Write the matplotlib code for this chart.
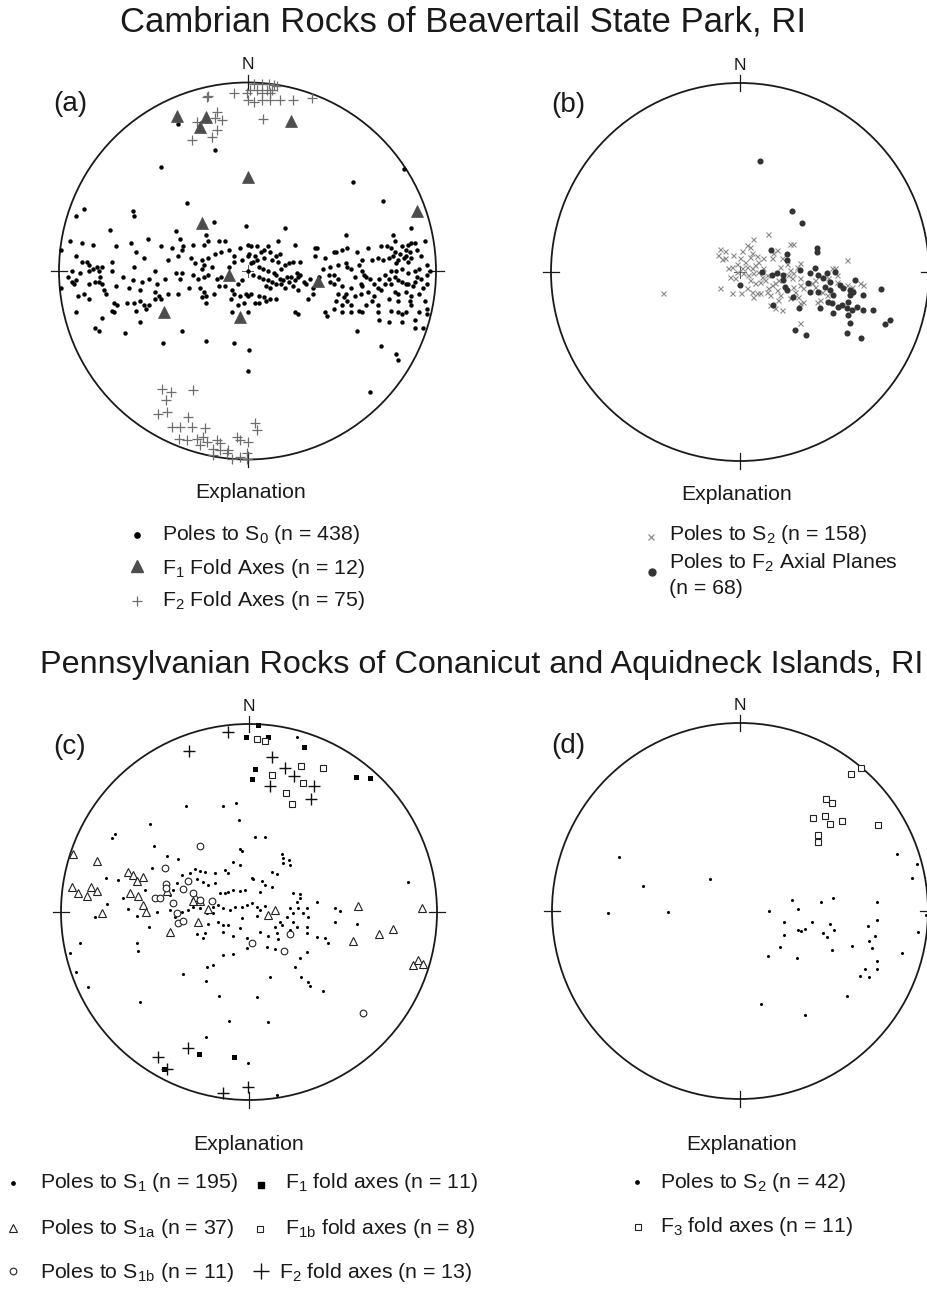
import numpy as np
import matplotlib
matplotlib.use("Agg")
from matplotlib import pyplot as plt
import matplotlib.patches as mpatches

plt.rcParams['font.family'] = ['Liberation Sans', 'DejaVu Sans']
plt.rcParams['mathtext.fontset'] = 'custom'
plt.rcParams['mathtext.rm'] = 'Liberation Sans'
plt.rcParams['mathtext.it'] = 'Liberation Sans:italic'

# all net coordinates: x east, y north, in percent of the primitive circle radius

# (a) Cambrian rocks
A_S0 = [(-37, 78), (-17, 64), (-46, 55), (83, 54), (56, 47), (-45, -38), (-22, -37), (-7, -38), (1, -42),
        (0, -53), (71, -40), (79, -44), (80, -47), (65, -64),
        (-32, 36), (-87, 33), (-61, 32), (-60, 29), (-91, 29), (-18, 26), (-1, 24), (-73, 22), (-38, 21),
        (-36, 17), (-94, 16), (-88, 15), (-82, 14), (-70, 13), (-62, 15), (-53, 17), (-46, 13), (-40, 12),
        (-34, 13), (-29, 14), (-23, 14), (-21, 16), (-15, 16), (-12, 16), (-22, 19), (-99, 11), (-91, 8),
        (-85, 5), (-72, 5), (-59, 10), (-55, 7), (-42, 6), (-37, 8), (-35, 11), (-30, 7), (-28, 4), (-24, 6),
        (-21, 7), (-17, 9), (-14, 10), (-10, 11), (-7, 8), (-4, 12), (0, 14), (-23, 3), (-19, 2), (-24, 1),
        (-21, -2), (-23, -3), (-16, -4), (-14, -3), (-10, 2), (-7, 5), (-3, 6), (-84, 3), (-82, 1), (-80, 2),
        (-79, 0), (-84, 0), (-77, 2), (-93, 0), (-89, -1), (-78, -3), (-49, 0), (-60, 2), (-38, -1), (-35, -1),
        (-36, -4), (-61, -5), (-56, -6), (-48, -7), (-93, -6), (-92, -7), (-91, -5), (-84, -7), (-81, -6),
        (-79, -6), (-77, -7), (-76, -10), (-75, -12), (-99, -9), (-63, -9), (-57, -10), (-49, -11), (-47, -13),
        (-42, -12), (-37, -12), (-31, -9), (-25, -9), (-23, -11), (-22, -13), (-18, -12), (-15, -8), (-12, -8),
        (-7, -12), (-4, -13), (-1, -12), (-84, -15), (-71, -17), (-69, -18), (-64, -17), (-60, -17), (-57, -16),
        (-55, -18), (-52, -18), (-49, -15), (-46, -15), (-24, -14), (-22, -17), (-9, -15), (-72, -21),
        (-71, -22), (-59, -21), (-54, -20), (-77, -25), (-81, -30), (-79, -32), (-65, -33), (-57, -27),
        (-35, -32), (-91, -22), (-8, -22),
        (72, 37), (20, 23), (52, 19), (87, 23), (77, 19), (78, 16), (2, 13), (5, 13), (11, 13), (16, 16),
        (25, 14), (36, 12), (37, 12), (87, 15), (94, 16), (0, 8), (1, 9), (4, 8), (7, 10), (9, 11), (12, 10),
        (15, 8), (17, 9), (9, 7), (13, 6), (16, 5), (20, 3), (22, 4), (24, 5), (28, 5), (2, 4), (6, 2), (8, 1),
        (11, 0), (14, -1), (15, -2), (18, 1), (21, -3), (23, -3), (27, -3), (0, 0), (3, -2), (6, -3), (8, -4),
        (11, -5), (13, -6), (15, -7), (18, -7), (22, -6), (25, -5), (30, -6), (31, -7), (27, -10), (0, -13),
        (2, -12), (6, -13), (9, -14), (12, -15), (15, -15), (4, -17), (6, -17), (10, -16), (25, -22), (27, -23),
        (32, -15), (35, -12), (0, -22), (41, 7), (36, 8), (46, 10), (47, 10), (50, 11), (53, 12), (58, 10),
        (64, 12), (44, 2), (43, -2), (46, -2), (48, 3), (52, 4), (53, 2), (55, 1), (59, 3), (61, 0), (62, -2),
        (65, -4), (66, 6), (69, 7), (61, 6), (46, -7), (50, -8), (52, -12), (48, -12), (55, -9), (57, -13),
        (60, -7), (61, -8), (64, -11), (67, -7), (69, -9), (71, -10), (47, -16), (50, -18), (53, -16), (55, -18),
        (59, -21), (61, -22), (63, -18), (66, -16), (69, -18), (46, -20), (41, -22), (42, -24), (50, -22),
        (55, -22), (69, -22), (70, -26), (58, -32), (71, 13), (74, 13), (76, 12), (78, 10), (82, 13), (84, 11),
        (85, 14), (89, 15), (72, 6), (75, 7), (77, 8), (80, 6), (83, 7), (84, 8), (85, 5), (87, 7), (92, 8),
        (95, 3), (76, 0), (79, 0), (82, 1), (85, -1), (89, 0), (91, 1), (80, -5), (82, -6), (84, -7), (85, -7),
        (89, -6), (92, -4), (95, -2), (97, 0), (73, -7), (75, -4), (76, -7), (78, -11), (80, -12), (84, -11),
        (87, -13), (91, -12), (93, -9), (95, -7), (75, -15), (76, -21), (80, -22), (82, -23), (84, -22),
        (87, -18), (89, -26), (91, -22), (94, -16), (95, -20), (95, -23), (93, -30), (89, -30), (82, -27),
        (75, -27),
        (10, -8), (12, -9), (17, -4), (19, -5), (20, -9), (24, -8), (26, -1), (28, -2), (33, -4), (35, -9),
        (3, 5), (5, 6), (-3, -5), (-5, -7), (-8, -10), (-2, -17), (-5, -18), (38, -3), (40, 1), (44, -6),
        (48, -4), (51, -14), (57, -3), (60, -12), (63, -3), (67, -13), (70, -4), (73, -2), (78, -3), (80, -16),
        (86, -16), (88, -8), (90, -3), (79, 4), (81, 9), (86, 10), (90, 11), (-44, -4), (-52, -4), (-66, -3),
        (-70, -8), (-72, 0), (-87, -12), (-90, -13), (-88, 5), (-95, -3), (-26, -4), (-29, -2)]
A_F1 = [(-37.2, 82.3), (-22.1, 81.6), (-25.1, 76.3), (23.0, 79.7), (0.0, 50.1), (-23.9, 25.7), (-9.7, -2.1),
        (37.3, -5.1), (89.9, 32.0), (-44.1, -21.6), (-3.9, -24.6)]
A_F2 = [(3.2, 99.4), (7.6, 99.4), (11.2, 99.0), (13.8, 98.6), (15.6, 98.4), (1.1, 96.1), (5.0, 96.1),
        (10.3, 96.1), (12.9, 96.1), (-7.4, 94.3), (-0.4, 94.3), (7.6, 94.3), (12.0, 94.3), (-20.7, 92.6),
        (-21.6, 92.2), (0.5, 90.8), (3.2, 89.9), (7.6, 90.8), (12.0, 90.8), (17.3, 90.8), (24.4, 90.8),
        (34.2, 91.7), (-16.3, 84.6), (-13.6, 80.2), (-17.2, 81.1), (8.1, 80.7), (-26.9, 79.3), (-16.3, 74.9),
        (-18.9, 71.3), (-29.6, 69.6),
        (-45.5, -62.8), (-40.7, -64.1), (-29.0, -63.2), (-43.2, -68.5), (-47.3, -75.6), (-42.8, -74.7),
        (-31.3, -77.3), (-40.2, -82.7), (-35.8, -82.7), (-29.6, -82.7), (-22.5, -83.5), (4.1, -80.9),
        (5.0, -84.4), (-36.6, -88.9), (-32.2, -89.7), (-26.9, -88.9), (-23.4, -88.0), (-21.6, -90.6),
        (-25.1, -92.4), (-16.3, -89.7), (-14.5, -91.5), (-5.7, -88.0), (-3.9, -89.7), (0.5, -90.6),
        (-18.1, -94.2), (-14.5, -95.0), (-10.1, -95.0), (-11.0, -96.8), (-18.1, -97.7), (-8.3, -99.5),
        (-0.4, -96.8), (-0.4, -99.8), (-3.9, -98.6)]

# (b) Cambrian rocks, S2 and F2 axial planes
B_S2 = [(-40.6, -11.3), (15.0, 20.1), (7.1, 17.5), (26.5, 14.8), (28.2, 14.8), (-10.6, 12.2), (-7.9, 11.1),
        (-11.5, 9.0), (-9.7, 6.9), (0.9, 11.1), (5.3, 13.4), (6.2, 9.9), (-3.5, 9.0), (0, 7.2), (2.6, 5.5),
        (5.3, 8.1), (8.8, 8.6), (9.7, 5.5), (12.3, 7.2), (-4.4, 2.8), (-1.8, 4.1), (0.9, 1.9), (3.5, 2.8),
        (6.2, 1.9), (7.9, 3.7), (-1.8, 0.2), (1.8, -0.7), (4.4, -1.6), (7.1, -0.7), (9.7, 0.2), (11.5, -2.5),
        (-5.3, -2.5), (-2.6, -3.4), (5.3, -4.2), (7.9, -6.0), (10.6, -5.1), (13.2, -4.2), (-10.6, -8.6),
        (-4.4, -11.3), (0.4, -11.3), (3.5, -8.6), (6.2, -10.4), (7.1, -13.1), (8.8, -11.3), (10.6, -11.3),
        (14.1, -10.4), (15.9, -12.2), (16.8, -6.9), (18.5, -6.0), (20.3, -4.2), (19.4, -9.5), (15.0, -8.6),
        (16.8, 7.2), (17.6, 9.9), (19.4, 11.6), (22.1, 7.2), (21.2, 2.8), (24.7, 4.1), (26.5, 1.1),
        (28.2, -0.7), (30.0, 2.8), (31.8, 4.6), (25.6, -1.6), (27.3, -3.4), (28.2, -7.8), (31.8, -6.9),
        (29.1, -10.4), (33.5, -8.6), (21.2, -12.2), (15.9, -17.5), (18.5, -19.2), (22.1, -20.1), (20.3, -14.8),
        (26.5, -13.9), (30.9, -13.1), (31.8, -16.6), (33.5, -15.7), (37.9, -6.0), (39.7, -7.8), (40.6, -15.7),
        (42.3, -14.8), (43.2, -10.4), (45.9, -12.2), (48.5, 1.9), (50.3, 1.9), (51.2, -1.6), (51.2, -5.1),
        (56.4, 6.4), (56.4, -6.9), (59.1, -7.8), (63.5, -6.0), (65.3, -6.9), (46.7, -3.4), (39.7, -4.2),
        (31.8, -27.2), (31.8, -3.4), (14.1, -1.6), (12.3, 1.9), (-6.2, 1.9), (-7.9, 7.2), (3.5, 14.3)]
B_F2AP = [(10.6, 58.9), (27.7, 32.5), (33.0, 25.7), (40.6, 12.9), (40.6, 10.8), (16.2, 11.6), (25.0, 9.3),
          (25.0, 6.4), (0, -6.9), (11.5, 0.2), (16.8, -1.6), (19.4, -0.7), (22.9, -1.6), (22.9, -4.2),
          (23.8, -7.8), (24.7, -9.5), (28.2, -13.1), (31.8, 1.1), (37.0, -0.7), (39.7, 1.9), (41.5, -1.6),
          (44.1, -3.4), (45.9, -0.7), (45.0, -7.8), (47.6, -5.1), (47.6, -9.5), (49.4, -12.2), (46.7, -15.7),
          (48.5, -16.6), (52.0, -18.3), (53.8, -17.5), (56.4, -19.2), (57.3, -15.7), (58.2, -12.2),
          (58.2, -9.5), (57.3, -22.8), (59.1, -20.1), (60.0, -10.4), (60.9, -4.2), (52.9, -6.9), (54.7, -8.6),
          (37.0, -10.4), (41.5, -10.4), (42.3, -19.2), (36.2, -6.0), (49.4, -21.9), (58.2, -27.2),
          (65.3, -12.2), (65.3, -20.1), (70.2, -20.1), (74.6, -9.0), (76.7, -27.7), (79.4, -25.4),
          (29.1, -30.7), (34.9, -33.3), (56.8, -32.5), (64.0, -35.1), (17.6, -17.5), (31.4, -19.2),
          (50.3, 0.2), (61.7, -18.3)]

# (c) Pennsylvanian rocks
C_S1 = [(25.4, 93.3), (-33.7, 56.6), (-14.0, 56.6), (-6.9, 57.8), (-5.3, 48.9), (-52.7, 46.8), (31.6, -37.1),
        (32.4, -39.4), (39.2, -42.0), (-23.0, -36.7), (-16.0, -44.7), (4.1, -45.4), (-58.0, -47.7),
        (-10.6, -58.0), (10.3, -58.3), (-23.0, -66.3), (-0.4, -80.5), (14.7, -97.3), (-85.5, -39.7),
        (-92.0, -31.7), (-35.3, -33.0), (11.2, -34.8), (27.5, -34.8),
        (-73.0, 39.2), (-71.3, 41.5), (-50.5, 35.1), (-43.4, 30.0), (-37.9, 28.0), (-76.1, 17.9),
        (-69.5, 17.0), (-51.8, 23.2), (-28.7, 22.7), (-26.1, 22.0), (-23.4, 21.5), (-18.1, 20.6),
        (-12.8, 22.3), (-11.0, 20.6), (-8.3, 26.8), (-4.8, 25.0), (-3.9, 32.6), (-4.8, 33.3), (3.2, 39.7),
        (8.5, 39.7), (17.4, 30.9), (18.3, 28.5), (21.5, 27.7), (17.9, 25.9), (21.8, 25.0), (12.1, 21.5),
        (14.7, 20.2), (1.4, 17.9), (2.3, 17.6), (6.7, 16.7), (8.5, 14.4), (12.1, 13.5), (5.9, 10.8),
        (-2.1, 11.7), (-4.8, 11.3), (-8.3, 11.7), (-11.0, 10.8), (-12.8, 9.9), (-15.4, 10.3), (-18.1, 15.2),
        (-21.6, 14.4), (-24.3, 16.1), (-27.8, 17.4), (-31.4, 20.6), (-35.8, 19.7), (-38.1, 15.2),
        (-40.2, 11.7), (-42.0, 9.0), (-55.3, 11.7), (-66.8, 7.3), (-75.7, 4.3), (-81.9, -2.8), (-64.2, 1.6),
        (-59.7, -2.1), (-53.0, -8.2), (-49.1, 0.2), (-42.0, 1.1), (-39.4, -2.8), (-35.8, 0.2), (-32.3, 1.1),
        (-29.6, 2.8), (-26.1, 2.0), (-22.5, -0.7), (-19.0, 2.8), (-16.3, 3.7), (-13.7, 2.0), (-10.1, 1.1),
        (-7.4, 2.5), (-3.9, 2.8), (-1.2, 3.7), (1.4, 5.0), (4.1, 2.5), (5.9, 1.1), (8.5, 3.2), (4.1, -2.1),
        (-3.9, -3.4), (-4.8, -8.7), (-11.0, -6.9), (-13.7, -6.9), (-16.3, -5.1), (-19.0, -0.7), (-21.6, -6.4),
        (-23.4, -11.3), (-27.8, -11.7), (-24.3, -14.0), (-13.7, -10.5), (-8.3, -12.8), (-1.2, -14.0),
        (5.9, -10.5), (10.3, -12.8), (13.8, -7.8), (16.5, -5.1), (20.0, -2.8), (23.6, -5.1), (23.6, -0.7),
        (21.8, 2.0), (26.2, 2.0), (28.9, -0.7), (30.7, 2.0), (27.1, 7.3), (25.4, 5.5), (23.6, 9.9),
        (27.1, 9.6), (36.0, 5.5), (45.7, 2.0), (48.4, 0.7), (45.7, -5.1), (57.6, -6.4), (31.6, -2.8),
        (30.7, -7.8), (25.4, -7.8), (21.8, -9.6), (14.7, -11.3), (17.4, -6.9), (30.7, -11.3), (36.0, -13.1),
        (40.4, -14.0), (42.2, -16.3), (31.0, -21.1), (27.1, -24.6), (24.5, -29.1), (13.8, -19.9),
        (9.4, -18.4), (-1.2, -19.3), (-8.3, -22.3), (-13.7, -22.9), (-22.5, -29.1), (-19.0, -28.2),
        (-59.4, -16.7), (-58.9, -20.6), (-89.9, -16.7), (-95.2, -22.0), (84.7, 16.1), (15.6, -14.5)]
C_S1A = [(-93.4, 30.7), (-81.0, 27.1), (-64.2, 21.5), (-61.5, 19.7), (-59.4, 16.7), (-56.2, 18.8),
         (-94.3, 13.1), (-90.8, 10.3), (-86.3, 8.7), (-84.2, 13.1), (-81.0, 11.3), (-63.3, 9.9), (-58.9, 8.7),
         (-56.6, 3.7), (-54.8, 0.2), (-78.4, -0.4), (-42.0, -10.5), (-43.8, 11.0), (-27.0, -5.1), (-21.6, 1.6),
         (-28.7, 8.2), (10.3, -1.6), (13.8, 1.1), (58.2, 3.2), (91.8, 2.0), (76.8, -9.0), (69.3, -11.9),
         (55.1, -15.4), (87.4, -28.2), (90.1, -25.5), (92.7, -27.7), (-30.0, 6.0), (-26.0, 6.0)]
C_S1B = [(-26.1, 35.1), (-44.7, 23.2), (-32.3, 16.7), (-44.1, 14.9), (-44.1, 12.6), (-34.9, 12.1),
         (-29.6, 10.3), (-50.0, 7.3), (-47.3, 7.3), (-40.2, 4.6), (-38.5, -0.7), (-37.6, -6.0), (-34.9, -4.6),
         (1.4, -16.7), (18.6, -20.6), (21.8, -11.7), (60.8, -53.9), (-26.1, 6.4), (-19.9, 6.0)]
C_F1 = [(5.0, 99.5), (-1.8, 92.9), (10.3, 92.9), (29.3, 87.9), (3.2, 76.1), (1.4, 70.7), (56.7, 71.6),
        (64.4, 71.1), (-26.6, -75.5), (-8.0, -77.3), (-45.2, -83.7)]
C_F1B = [(4.1, 91.8), (8.5, 91.1), (27.5, 77.8), (39.5, 76.8), (12.4, 72.9), (28.5, 68.4), (19.7, 63.1),
         (23.0, 57.3)]
C_F2 = [(-11.0, 95.9), (-31.9, 85.8), (12.1, 82.6), (19.1, 76.8), (23.9, 72.3), (11.2, 67.0), (34.6, 67.0),
        (33.0, 59.9), (-32.3, -72.5), (-48.2, -77.3), (-43.4, -83.7), (-14.0, -96.1), (-0.4, -93.3)]

# (d) Pennsylvanian rocks, S2 and F3
D_S2 = [(-64.2, 28.5), (-51.8, 13.1), (-16.0, 17.2), (-70.0, -1.1), (-38.1, -0.5), (83.3, 30.3), (94.3, 25.2),
        (91.3, 17.6), (98.9, -2.3), (94.5, -11.2), (86.0, -22.3), (27.8, 6.0), (43.1, 4.8), (49.6, 6.7),
        (72.7, 4.6), (31.0, 1.2), (15.4, -0.2), (23.6, -5.9), (38.1, -6.0), (47.9, -6.7), (73.0, -5.0),
        (31.0, -10.3), (32.3, -10.6), (34.6, -9.6), (44.0, -11.7), (46.1, -13.8), (50.0, -10.3), (23.4, -12.6),
        (67.9, -8.2), (71.8, -13.1), (68.6, -16.1), (70.0, -19.7), (59.4, -18.4), (48.8, -20.6), (21.3, -19.1),
        (14.7, -23.8), (30.3, -25.0), (73.0, -26.4), (66.5, -30.7), (73.0, -30.7), (63.8, -34.8), (68.8, -35.1),
        (57.1, -45.4), (11.0, -49.5), (34.6, -55.1)]
D_F3 = [(58.9, 73.0), (64.4, 76.1), (45.7, 59.8), (49.1, 57.4), (39.0, 49.5), (45.2, 50.7), (47.9, 46.5),
        (54.1, 47.7), (73.6, 45.6), (41.7, 40.6), (41.3, 36.5)]

W, H = 927, 1291
INK = '#1a1a1a'

fig = plt.figure(figsize=(W / 100, H / 100), dpi=100)

# overlay in pixel units for titles and explanations
lay = fig.add_axes([0, 0, 1, 1])
lay.set_xlim(0, W)
lay.set_ylim(H, 0)
lay.axis('off')


def net(cx, cy, r, label, lab_xy, centre_cross=True):
    pad = 1.2
    ax = fig.add_axes([(cx - pad * r) / W, 1 - (cy + pad * r) / H, 2 * pad * r / W, 2 * pad * r / H])
    ax.set_xlim(-100 * pad, 100 * pad)
    ax.set_ylim(-100 * pad, 100 * pad)
    ax.axis('off')
    ax.add_patch(mpatches.Circle((0, 0), 100, fill=False, lw=1.3, ec=INK, clip_on=False))
    kw = dict(color=INK, lw=0.9, clip_on=False)
    ax.plot([-104, -96], [0, 0], **kw)
    ax.plot([96, 104], [0, 0], **kw)
    ax.plot([0, 0], [96, 104], **kw)
    ax.plot([0, 0], [-96, -104], **kw)
    if centre_cross:
        ax.plot([-3, 3], [0, 0], color='#555555', lw=0.7)
        ax.plot([0, 0], [-3, 3], color='#555555', lw=0.7)
    ax.text(0, 109.5, 'N', ha='center', va='center', fontsize=12.5, color=INK)
    ax.text(lab_xy[0], lab_xy[1], label, ha='left', va='center', fontsize=20, color=INK)
    return ax


def pts(ax, data, **kw):
    d = np.asarray(data, dtype=float)
    ax.plot(d[:, 0], d[:, 1], ls='none', clip_on=False, **kw)


# titles
lay.text(463, 22, 'Cambrian Rocks of Beavertail State Park, RI', ha='center', va='center', fontsize=25,
         color=INK)
lay.text(40, 665, 'Pennsylvanian Rocks of Conanicut and Aquidneck Islands, RI', ha='left', va='center',
         fontsize=23.3, color=INK)

# (a)
ax = net(247.5, 271, 188.5, '(a)', (-103, 88.5))
pts(ax, A_S0, marker='o', ms=3.2, mfc='black', mec='black', mew=0)
pts(ax, A_F2, marker='+', ms=6.5, mec='#6e6e6e', mew=0.9)
pts(ax, A_F1, marker='^', ms=8, mfc='#4d4d4d', mec='#4d4d4d', mew=0.5)

# (b)
ax = net(740, 272, 189, '(b)', (-100, 88.5))
pts(ax, B_S2, marker='x', ms=3.6, mec='#8a8a8a', mew=0.8)
pts(ax, B_F2AP, marker='o', ms=4.4, mfc='#333333', mec='#333333', mew=0)

# (c)
ax = net(249, 912, 188, '(c)', (-104, 88), centre_cross=False)
pts(ax, C_S1, marker='o', ms=2.2, mfc='black', mec='black', mew=0)
pts(ax, C_S1A, marker='^', ms=5.4, mfc='white', mec='#222222', mew=0.8)
pts(ax, C_S1B, marker='o', ms=4.8, mfc='white', mec='#222222', mew=0.8)
pts(ax, C_F1, marker='s', ms=3.6, mfc='black', mec='black', mew=0)
pts(ax, C_F1B, marker='s', ms=4.6, mfc='white', mec='#222222', mew=0.8)
pts(ax, C_F2, marker='+', ms=8, mec='#111111', mew=1.0)

# (d)
ax = net(740, 911, 188, '(d)', (-100.5, 88), centre_cross=False)
pts(ax, D_S2, marker='o', ms=2.2, mfc='black', mec='black', mew=0)
pts(ax, D_F3, marker='s', ms=4.6, mfc='white', mec='#222222', mew=0.8)

# explanations
FS = 15.3
tk = dict(ha='left', va='center', fontsize=FS, color=INK)
for x, y in [(251, 493), (737, 494), (249, 1145), (742, 1145)]:
    lay.text(x, y, 'Explanation', ha='center', va='center', fontsize=FS, color=INK)

lay.plot(137, 535, 'o', ms=3.8, color='black')
lay.text(162, 535, r'Poles to S$_{0}$ (n = 438)', **tk)
lay.plot(137, 566, '^', ms=8, color='#4d4d4d')
lay.text(162, 568, r'F$_{1}$ Fold Axes (n = 12)', **tk)
lay.plot(137, 601, '+', ms=7, mec='#6e6e6e', mew=0.9)
lay.text(162, 601, r'F$_{2}$ Fold Axes (n = 75)', **tk)

lay.plot(651, 537, 'x', ms=5, mec='#8a8a8a', mew=0.9)
lay.text(669, 535, r'Poles to S$_{2}$ (n = 158)', **tk)
lay.plot(652, 572, 'o', ms=5, color='#333333')
lay.text(669, 563, r'Poles to F$_{2}$ Axial Planes', **tk)
lay.text(669, 589, '(n = 68)', **tk)

lay.plot(13, 1183, 'o', ms=2.4, color='black')
lay.text(40, 1183, r'Poles to S$_{1}$ (n = 195)', **tk)
lay.plot(13, 1228, '^', ms=5.5, mfc='white', mec='#222222', mew=0.8)
lay.text(40, 1228, r'Poles to S$_{\mathrm{1a}}$ (n = 37)', **tk)
lay.plot(13, 1271, 'o', ms=4.8, mfc='white', mec='#222222', mew=0.8)
lay.text(40, 1272, r'Poles to S$_{\mathrm{1b}}$ (n = 11)', **tk)
lay.plot(261, 1185, 's', ms=3.8, color='black')
lay.text(285, 1183, r'F$_{1}$ fold axes (n = 11)', **tk)
lay.plot(260, 1229, 's', ms=4.6, mfc='white', mec='#222222', mew=0.8)
lay.text(285, 1228, r'F$_{\mathrm{1b}}$ fold axes (n = 8)', **tk)
lay.plot(261, 1271, '+', ms=11, mec='#111111', mew=1.0)
lay.text(279, 1272, r'F$_{2}$ fold axes (n = 13)', **tk)

lay.plot(637, 1182, 'o', ms=2.4, color='black')
lay.text(660, 1182, r'Poles to S$_{2}$ (n = 42)', **tk)
lay.plot(638, 1227, 's', ms=4.6, mfc='white', mec='#222222', mew=0.8)
lay.text(660, 1227, r'F$_{3}$ fold axes (n = 11)', **tk)

fig.savefig('out.png', dpi=100, facecolor='white')
